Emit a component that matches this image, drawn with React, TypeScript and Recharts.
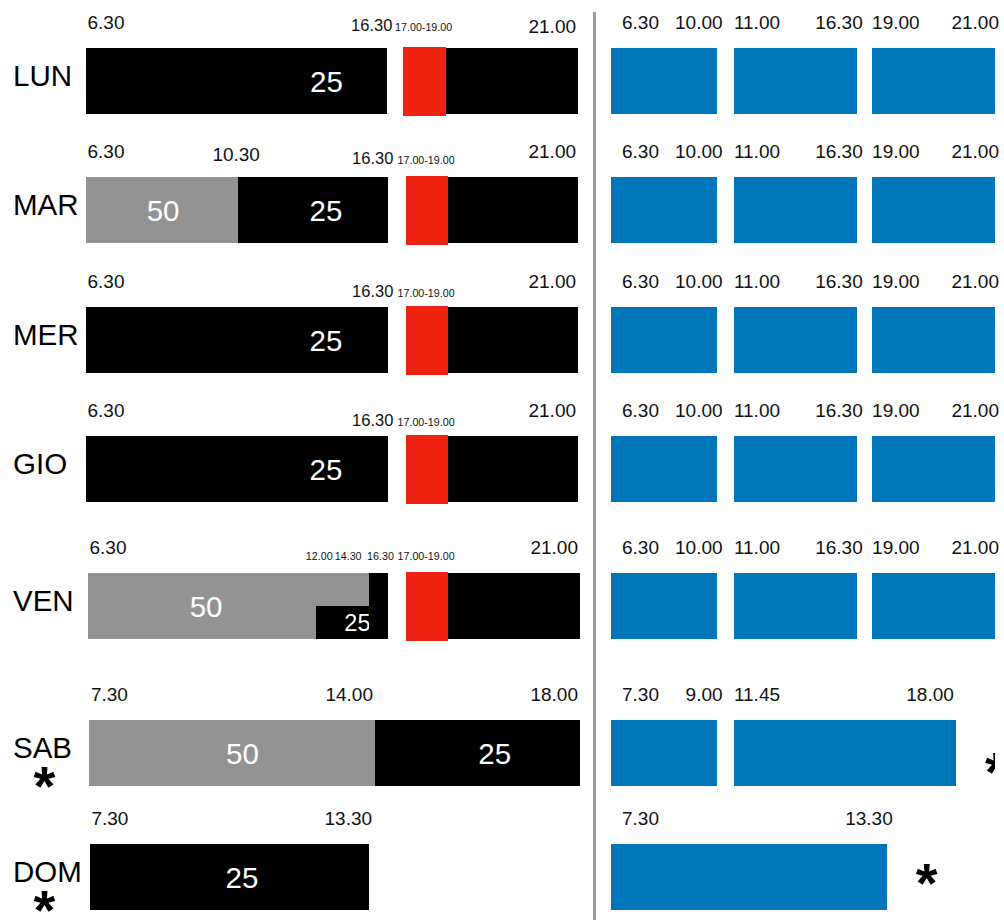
import React from "react";
import { BarChart, Bar, XAxis, YAxis } from "recharts";

const FONT = '"Liberation Sans", Arial, Helvetica, sans-serif';

// ---------- data ----------
const DAYS = ["LUN", "MAR", "MER", "GIO", "VEN", "SAB", "DOM"];
const STARRED = ["SAB", "DOM"];

// left panel: fare bands. from/to are positions along a 0-100 row (the sheet is schematic, not to clock scale)
// fare "50" = grey, "25" = black, "rush" = 17.00-19.00, "split" = 50 above / 25 below
const LUN_FARES = [
  { from: 0, to: 60.9, fare: "25", label: "25" },
  { from: 64.2, to: 72.9, fare: "rush" },
  { from: 72.9, to: 99.6, fare: "25" },
];
const MAR_FARES = [
  { from: 0, to: 30.8, fare: "50", label: "50" },
  { from: 30.8, to: 61.1, fare: "25", label: "25" },
  { from: 64.8, to: 73.3, fare: "rush" },
  { from: 73.3, to: 99.6, fare: "25" },
];
const MER_FARES = [
  { from: 0, to: 61.1, fare: "25", label: "25" },
  { from: 64.8, to: 73.3, fare: "rush" },
  { from: 73.3, to: 99.6, fare: "25" },
];
const GIO_FARES = MER_FARES;
const VEN_FARES = [
  { from: 0.4, to: 46.6, fare: "50", label: "50" },
  { from: 46.6, to: 57.2, fare: "split", label: "25" },
  { from: 57.2, to: 61.1, fare: "25" },
  { from: 64.8, to: 73.3, fare: "rush" },
  { from: 73.3, to: 100, fare: "25" },
];
const SAB_FARES = [
  { from: 0.7, to: 58.6, fare: "50", label: "50" },
  { from: 58.6, to: 100, fare: "25", label: "25" },
];
const DOM_FARES = [{ from: 0.8, to: 57.3, fare: "25", label: "25" }];

const LUN_TICKS = [
  { at: 0, text: "6.30" },
  { at: 60.9, text: "16.30" },
  { at: 68.55, text: "17.00-19.00" },
  { at: 99.6, text: "21.00" },
];
const MAR_TICKS = [
  { at: 0, text: "6.30" },
  { at: 30.8, text: "10.30" },
  { at: 61.1, text: "16.30" },
  { at: 69.05, text: "17.00-19.00" },
  { at: 99.6, text: "21.00" },
];
const MER_TICKS = [
  { at: 0, text: "6.30" },
  { at: 61.1, text: "16.30" },
  { at: 69.05, text: "17.00-19.00" },
  { at: 99.6, text: "21.00" },
];
const GIO_TICKS = MER_TICKS;
const VEN_TICKS = [
  { at: 0.4, text: "6.30" },
  { at: 46.6, text: "12.00" },
  { at: 57.2, text: "14.30" },
  { at: 61.1, text: "16.30" },
  { at: 69.05, text: "17.00-19.00" },
  { at: 100, text: "21.00" },
];
const SAB_TICKS = [
  { at: 0.7, text: "7.30" },
  { at: 58.6, text: "14.00" },
  { at: 100, text: "18.00" },
];
const DOM_TICKS = [
  { at: 0.8, text: "7.30" },
  { at: 57.3, text: "13.30" },
];

// right panel: opening hours
const WEEKDAY_HOURS = [
  { from: 0, to: 27.5 },
  { from: 32, to: 64 },
  { from: 68, to: 100 },
];
const SAB_HOURS = [
  { from: 0, to: 27.5 },
  { from: 32, to: 89.8 },
];
const DOM_HOURS = [{ from: 0, to: 71.8 }];

const WEEKDAY_HOUR_TICKS = [
  { at: 0, text: "6.30", edge: "start" },
  { at: 27.5, text: "10.00", edge: "end" },
  { at: 32, text: "11.00", edge: "start" },
  { at: 64, text: "16.30", edge: "end" },
  { at: 68, text: "19.00", edge: "start" },
  { at: 100, text: "21.00", edge: "end" },
];
const SAB_HOUR_TICKS = [
  { at: 0, text: "7.30", edge: "start" },
  { at: 27.5, text: "9.00", edge: "end" },
  { at: 32, text: "11.45", edge: "start" },
  { at: 89.8, text: "18.00", edge: "end" },
];
const DOM_HOUR_TICKS = [
  { at: 0, text: "7.30", edge: "start" },
  { at: 71.8, text: "13.30", edge: "end" },
];

const FARES = [LUN_FARES, MAR_FARES, MER_FARES, GIO_FARES, VEN_FARES, SAB_FARES, DOM_FARES];
const FARE_TICKS = [LUN_TICKS, MAR_TICKS, MER_TICKS, GIO_TICKS, VEN_TICKS, SAB_TICKS, DOM_TICKS];
const HOURS = [WEEKDAY_HOURS, WEEKDAY_HOURS, WEEKDAY_HOURS, WEEKDAY_HOURS, WEEKDAY_HOURS, SAB_HOURS, DOM_HOURS];
const HOUR_TICKS = [
  WEEKDAY_HOUR_TICKS, WEEKDAY_HOUR_TICKS, WEEKDAY_HOUR_TICKS, WEEKDAY_HOUR_TICKS, WEEKDAY_HOUR_TICKS,
  SAB_HOUR_TICKS, DOM_HOUR_TICKS,
];

// ---------- layout / style ----------
const ROW_TOP = [48, 177, 307, 436, 573, 720, 844];
const BAR_H = 66;
const AXIS_H = 44;
const CHART_H = AXIS_H + BAR_H + 40;

const COLORS = {
  "50": "#939393",
  "25": "#000000",
  rush: "#EE2210",
  service: "#0076BA",
};

const LABEL_NUDGE = {
  "LUN:25": 90, "MAR:50": 1, "MAR:25": 13, "MER:25": 89, "GIO:25": 89,
  "VEN:50": 4, "VEN:25": 15, "SAB:50": 10, "SAB:25": 17, "DOM:25": 12.5,
};
const MID_BASE = { LUN: -17.3, MAR: -12.6, MER: -10, GIO: -10.2, VEN: -12.9 };
const STAR_DY = { SAB: 12, DOM: -1 };
const STAR_SIZE = 56;
const STAR_RISE = STAR_SIZE * 0.46; // baseline to glyph centre

function leftTickStyle(day, text, first) {
  const mid = MID_BASE[day] ?? -19.6;
  if (first) return { size: 19, anchor: "start", dx: 1.5, base: -19.2 };
  if (text === "17.00-19.00") return { size: 10.7, anchor: "middle", dx: -1, base: mid };
  if (text === "16.30")
    return day === "VEN"
      ? { size: 10.7, anchor: "end", dx: 6, base: mid }
      : { size: 16.5, anchor: "end", dx: 5.5, base: mid };
  if (text === "12.00") return { size: 10.7, anchor: "middle", dx: 3, base: mid };
  if (text === "14.30") return { size: 10.7, anchor: "end", dx: -7, base: mid };
  if (text === "10.30") return { size: 19, anchor: "middle", dx: -2, base: -15.9 };
  if (text === "14.00") return { size: 19, anchor: "end", dx: -2.5, base: -18.6 };
  if (text === "13.30") return { size: 19, anchor: "end", dx: 3, base: -18.9 };
  return { size: 19, anchor: "end", dx: -2, base: day === "LUN" ? -14.9 : -19.2 };
}

function stackRow(day, spans, kind) {
  const pieces = [];
  let cursor = 0;
  spans.forEach((s) => {
    if (s.from > cursor + 0.001) pieces.push({ kind: "gap", width: s.from - cursor });
    pieces.push({ ...s, kind: kind ?? s.fare, width: s.to - s.from });
    cursor = s.to;
  });
  const row = { day };
  pieces.forEach((p, i) => (row[`p${i}`] = p.width));
  return { pieces, row };
}

function Piece(props) {
  const { x, y, width, height, piece, day, last } = props;
  if (piece.kind === "gap" || !width) return <g />;
  const out = [];
  if (piece.kind === "rush") {
    out.push(<rect key="r" x={x} y={y - 1.5} width={width} height={height + 3} fill={COLORS.rush} shapeRendering="crispEdges" />);
  } else if (piece.kind === "split") {
    out.push(<rect key="t" x={x} y={y} width={width} height={height / 2} fill={COLORS["50"]} shapeRendering="crispEdges" />);
    out.push(<rect key="b" x={x} y={y + height / 2} width={width} height={height / 2} fill={COLORS["25"]} shapeRendering="crispEdges" />);
  } else {
    out.push(<rect key="r" x={x} y={y} width={width} height={height} fill={COLORS[piece.kind]} shapeRendering="crispEdges" />);
  }
  if (piece.label) {
    const split = piece.kind === "split";
    const fs = split ? 23.5 : 29.5;
    const cy = split ? y + height * 0.75 : y + height / 2;
    out.push(
      <text key="l" x={x + width / 2 + (LABEL_NUDGE[`${day}:${piece.label}`] ?? 0)} y={cy + fs * 0.358}
        textAnchor="middle" fontSize={fs} fontFamily={FONT} fill="#fff">
        {piece.label}
      </text>
    );
  }
  if (piece.kind === "service" && last && STARRED.includes(day)) {
    out.push(
      <text key="s" x={x + width + 40} y={y + height / 2 + STAR_DY[day] + STAR_RISE}
        textAnchor="middle" fontSize={STAR_SIZE} fontWeight="bold" fontFamily={FONT} fill="#000">
        *
      </text>
    );
  }
  return <g>{out}</g>;
}

function DayTick({ y, payload }) {
  const day = payload.value;
  return (
    <g>
      <text x={13} y={y + 5} fontSize={29.5} fontFamily={FONT} fill="#000">{day}</text>
      {STARRED.includes(day) && (
        <text x={44.5} y={y + 26.5 + STAR_RISE} textAnchor="middle" fontSize={STAR_SIZE} fontWeight="bold"
          fontFamily={FONT} fill="#000">
          *
        </text>
      )}
    </g>
  );
}

function FareRow({ di }) {
  const day = DAYS[di];
  const ticks = FARE_TICKS[di];
  const { pieces, row } = stackRow(day, FARES[di]);
  const renderTick = (p) => {
    const idx = ticks.findIndex((t) => Math.abs(t.at - p.payload.value) < 1e-6);
    const t = ticks[idx];
    if (!t) return <g />;
    const s = leftTickStyle(day, t.text, idx === 0);
    return (
      <text x={p.x + s.dx} y={AXIS_H + s.base} textAnchor={s.anchor} fontSize={s.size}
        fontFamily={FONT} fill="#111">
        {t.text}
      </text>
    );
  };
  return (
    <div style={{ position: "absolute", left: 0, top: ROW_TOP[di] - AXIS_H }}>
      <BarChart width={595} height={CHART_H} data={[row]} layout="vertical" barCategoryGap={0}
        margin={{ top: 0, right: 15, bottom: CHART_H - AXIS_H - BAR_H, left: 0 }}>
        <XAxis type="number" domain={[0, 100]} orientation="top" height={AXIS_H} allowDataOverflow
          ticks={ticks.map((t) => t.at)} interval={0} axisLine={false} tickLine={false} tick={renderTick} />
        <YAxis type="category" dataKey="day" width={86} axisLine={false} tickLine={false} tick={DayTick} />
        {pieces.map((piece, i) => (
          <Bar key={i} dataKey={`p${i}`} stackId="row" isAnimationActive={false}
            shape={(sp) => <Piece {...sp} piece={piece} day={day} last={i === pieces.length - 1} />} />
        ))}
      </BarChart>
    </div>
  );
}

function HoursRow({ di }) {
  const day = DAYS[di];
  const ticks = HOUR_TICKS[di];
  const { pieces, row } = stackRow(day, HOURS[di], "service");
  const renderTick = (p) => {
    const idx = ticks.findIndex((t) => Math.abs(t.at - p.payload.value) < 1e-6);
    const t = ticks[idx];
    if (!t) return <g />;
    let dx = 0;
    if (t.edge === "start") dx = idx === 0 ? 11 : 0;
    else dx = t.text === "21.00" ? 4 : day === "SAB" && t.text === "18.00" ? -2 : 6;
    return (
      <text x={p.x + dx} y={AXIS_H - 18.6} textAnchor={t.edge === "start" ? "start" : "end"} fontSize={19}
        fontFamily={FONT} fill="#111">
        {t.text}
      </text>
    );
  };
  return (
    <div style={{ position: "absolute", left: 597, top: ROW_TOP[di] - AXIS_H }}>
      <BarChart width={407} height={CHART_H} data={[row]} layout="vertical" barCategoryGap={0}
        margin={{ top: 0, right: 9, bottom: CHART_H - AXIS_H - BAR_H, left: 14 }}>
        <XAxis type="number" domain={[0, 100]} orientation="top" height={AXIS_H} allowDataOverflow
          ticks={ticks.map((t) => t.at)} interval={0} axisLine={false} tickLine={false} tick={renderTick} />
        <YAxis type="category" dataKey="day" hide />
        {pieces.map((piece, i) => (
          <Bar key={i} dataKey={`p${i}`} stackId="row" isAnimationActive={false}
            shape={(sp) => <Piece {...sp} piece={piece} day={day} last={i === pieces.length - 1} />} />
        ))}
      </BarChart>
    </div>
  );
}

export default function App() {
  return (
    <div style={{ position: "absolute", left: 0, top: 0, width: 1004, height: 920, background: "#fff",
      overflow: "hidden", fontFamily: FONT }}>
      {DAYS.map((d, i) => (
        <FareRow key={d} di={i} />
      ))}
      <div style={{ position: "absolute", left: 593, top: 12, width: 3, height: 908, background: "#9d9d9d" }} />
      {DAYS.map((d, i) => (
        <HoursRow key={d} di={i} />
      ))}
    </div>
  );
}
